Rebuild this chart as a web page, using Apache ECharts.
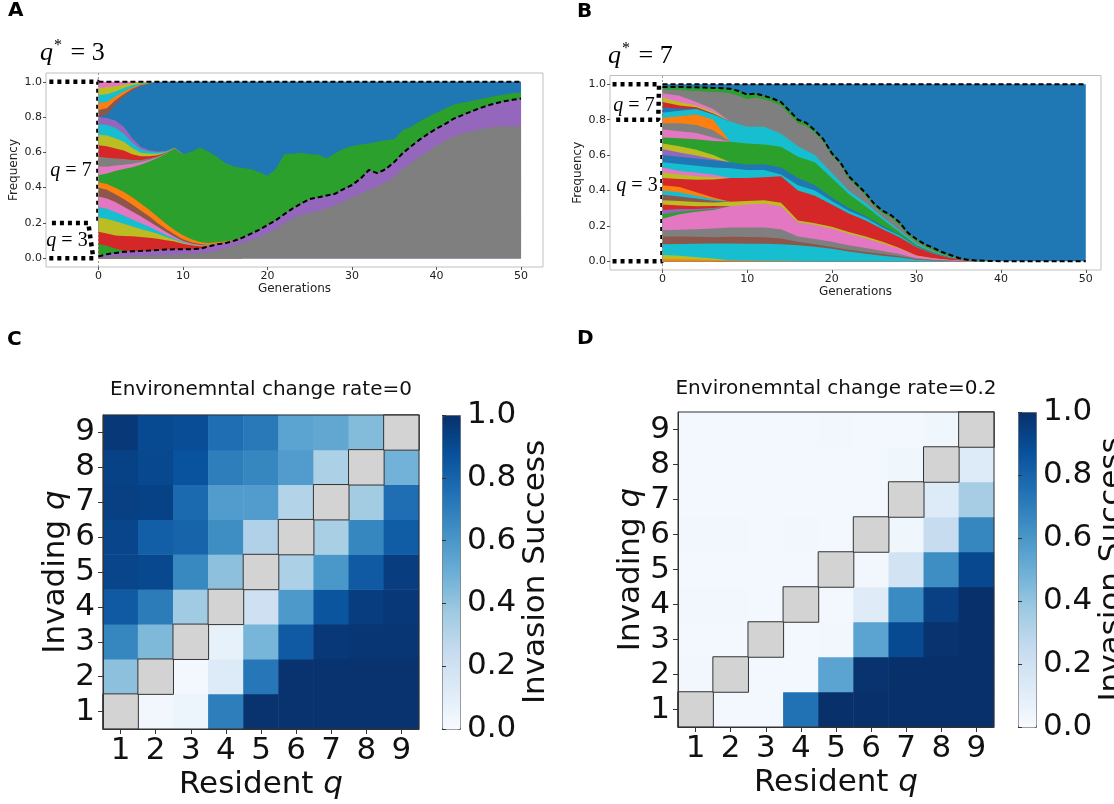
<!DOCTYPE html>
<html>
<head>
<meta charset="utf-8">
<script src="https://cdn.jsdelivr.net/npm/echarts@6.0.0/dist/echarts.min.js"></script>
<style>
  html, body { margin: 0; padding: 0; background: #fff; }
  #chart { width: 1114px; height: 804px; }
</style>
</head>
<body>
<div id="chart"></div>
<script>
// ---------------- data ----------------
// Generations (one sample per generation) and a coarser grid for the inner bands of panel B
const gens = [0,1,2,3,4,5,6,7,8,9,10,11,12,13,14,15,16,17,18,19,20,21,22,23,24,25,26,27,28,29,30,31,32,33,34,35,36,37,38,39,40,41,42,43,44,45,46,47,48,49,50];
const gensEven = [0,2,4,6,8,10,12,14,16,18,20,22,24,26,28,30,32,34,36,38];

// Frequencies always sum to one
const total = [1,1,1,1,1,1,1,1,1,1, 1,1,1,1,1,1,1,1,1,1, 1,1,1,1,1,1,1,1,1,1, 1,1,1,1,1,1,1,1,1,1, 1,1,1,1,1,1,1,1,1,1, 1];

// Panel A (q* = 3): upper edge of each band of the Muller plot (cumulative frequency)
const aStripU2 = [.965,.970,.975,.985,.992,.996,.998,1,1];
const aStripU3 = [.925,.930,.945,.965,.980,.990,.995,.999,1];
const aStripU4 = [.880,.885,.915,.945,.968,.985,.993,.998,1];
const aStripU5 = [.840,.850,.895,.930,.960,.980,.991,.998,1];
const aBlue = [.800,.815,.870,.915,.950,.975,.990,.997,1,1, 1,1,1,1,1,1,1,1,1,1, 1,1,1,1,1,1,1,1,1,1, 1,1,1,1,1,1,1,1,1,1, 1,1,1,1,1,1,1,1,1,1, 1];
const aStripM1 = [.800,.795,.780,.745,.680,.632,.612,.605,.608,.628,.592];
const aStripM2 = [.760,.755,.740,.705,.655,.618,.605,.600,.605,.626,.591];
const aStripM3 = [.700,.695,.680,.660,.625,.598,.593,.592,.601,.625,.590];
const aStripM4 = [.640,.635,.622,.610,.590,.578,.578,.584,.598,.624,.590];
const aStripM5 = [.575,.570,.565,.562,.556,.556,.565,.577,.596,.623,.590];
const aStripM6 = [.520,.518,.525,.530,.535,.545,.556,.572,.594,.622,.590];
const aGreen = [.470,.480,.495,.505,.515,.530,.548,.568,.592,.622, .590,.604,.628,.605,.575,.540,.520,.512,.505,.488, .468,.505,.590,.592,.598,.590,.588,.565,.595,.620, .635,.645,.650,.660,.668,.675,.725,.745,.775,.800, .825,.848,.870,.882,.890,.900,.910,.920,.928,.935, .940];
const aStripL1 = [.430,.420,.400,.375,.345,.310,.275,.235,.195,.160,.130,.108,.092,.085,.090,.095,.102,.115];
const aStripL2 = [.400,.388,.362,.335,.305,.270,.238,.200,.165,.135,.108,.090,.080,.075,.083,.090,.100,.115];
const aStripL3 = [.350,.338,.318,.292,.265,.238,.208,.178,.148,.122,.098,.083,.075,.072,.081,.088,.099,.115];
const aStripL4 = [.290,.280,.262,.242,.220,.200,.178,.155,.132,.112,.092,.079,.072,.070,.080,.087,.098,.115];
const aStripL5 = [.230,.222,.210,.195,.180,.166,.152,.138,.120,.104,.087,.076,.070,.068,.079,.086,.098,.115];
const aStripL6 = [.150,.140,.128,.126,.124,.120,.116,.110,.102,.094,.082,.074,.068,.067,.078,.085,.098,.115];
const aStripL7 = [.080,.070,.055,.042,.039];
// total frequency of the q = 3 lineages (dashed boundary)
const aQ3 = [.010,.022,.030,.036,.039,.041,.043,.046,.049,.050, .050,.051,.053,.066,.078,.085,.098,.115,.138,.160, .188,.215,.250,.282,.310,.335,.345,.355,.365,.392, .415,.450,.500,.482,.505,.545,.595,.635,.672,.705, .735,.760,.790,.810,.830,.848,.865,.878,.890,.898, .905];
const aGray = [.003,.005,.008,.010,.012,.014,.015,.016,.018,.020, .022,.024,.027,.032,.040,.055,.068,.085,.100,.118, .140,.165,.200,.225,.245,.258,.268,.282,.300,.322, .345,.365,.385,.405,.430,.460,.505,.540,.575,.605, .640,.665,.690,.705,.718,.728,.738,.745,.748,.745, .750];

// Panel B (q* = 7): total frequency of the q = 3 lineages (dashed boundary)
const bTop = [.985,.985,.985,.984,.983,.982,.980,.978,.975,.962, .942,.948,.935,.920,.900,.850,.800,.782,.740,.690, .610,.560,.480,.432,.385,.325,.285,.260,.220,.160, .125,.095,.075,.052,.035,.018,.008,.004,.002,.001, 0,0,0,0,0,0,0,0,0,0, 0];
const bGray = [.970,.970,.968,.965,.962,.960,.957,.955,.950,.935, .915,.925,.915,.900,.880,.830,.780,.765,.725,.675, .598,.548,.468,.420,.372,.312,.272,.248,.205,.148, .112,.084,.062,.042,.027,.016,.005,.002,0];
const bCyanU = [.840,.850,.860,.830,.790,.760,.760,.720,.650,.600,.500,.400,.330,.250,.175,.100,.055,.024,.005,0];
const bGreen = [.700,.695,.690,.680,.675,.665,.660,.647,.590,.560,.470,.380,.310,.235,.165,.092,.050,.022,.005,0];
const bBlue = [.600,.590,.580,.570,.560,.545,.548,.530,.470,.430,.360,.300,.255,.200,.150,.085,.046,.020,.004,0];
const bCyanS = [.560,.550,.540,.530,.525,.515,.515,.490,.430,.400,.340,.285,.245,.190,.145,.082,.044,.019,.004,0];
const bRed = [.470,.465,.460,.462,.470,.470,.475,.480,.400,.370,.320,.270,.230,.180,.135,.078,.042,.018,.004,0];
const bOlive = [.345,.340,.335,.332,.336,.340,.345,.330,.230,.215,.195,.165,.140,.110,.075,.032,.016,.007,.001,0];
const bPink = [.240,.265,.280,.290,.310,.320,.325,.310,.220,.205,.185,.155,.130,.100,.070,.030,.015,.006,.001,0];
const bGrayL = [.175,.178,.180,.185,.190,.190,.190,.180,.140,.125,.110,.090,.075,.058,.040,.016,.008,.003,0,0];
const bBrown = [.140,.140,.138,.135,.138,.137,.135,.128,.110,.095,.080,.065,.052,.040,.028,.012,.006,.002,0,0];
const bCyanL = [.095,.097,.098,.100,.100,.098,.098,.095,.090,.082,.070,.055,.042,.030,.020,.008,.004,.001,0,0];
const bOrange = [.012,.011,.009,.007,.005,.004,.003,.002,.001,0];
// short-lived lineages (generations 0-8)
const bFadeA = [.950,.935,.900,.860,.790];
const bFadeB = [.925,.900,.880,.845,.790];
const bFadeC = [.900,.880,.870,.835,.790];
const bFadeD = [.870,.862,.862,.831,.790];
const bFadeE = [.810,.820,.830,.800,.675];
const bFadeF = [.780,.780,.770,.740,.675];
const bFadeG = [.745,.735,.725,.700,.675];
const bFadeH = [.665,.650,.630,.600,.560];
const bFadeI = [.635,.615,.598,.578,.560];
const bFadeJ = [.530,.510,.500,.490,.470];
const bFadeK = [.500,.490,.480,.475,.470];
const bFadeL = [.430,.420,.390,.360,.336];
const bFadeM = [.400,.390,.370,.350,.336];
const bFadeN = [.375,.365,.355,.342,.336];
const bFadeO = [.320,.315,.310,.312,.310];
const bFadeP = [.290,.295,.295,.300,.310];
const bFadeQ = [.265,.280,.288,.295,.310];
const bFadeR = [.035,.030,.022,.015,.005];

// Initial-composition brackets (generation, frequency)
const aBracketQ7 = [[-5.8,1],[0,1],[0,0.2]];
const aBracketQ3 = [[-5.5,0.2],[-1.2,0.2],[-0.6,0],[-5.9,0]];
const bBracketQ7 = [[-5.9,1],[-0.4,1],[-0.5,0.8],[-5.8,0.8]];
const bBracketQ3 = [[-5.9,0],[0,0],[0,0.8]];

// Axis ticks
const genTicks = [0,10,20,30,40,50];
const freqTicks = [0,0.2,0.4,0.6,0.8,1.0];

// Panels C and D: invasion success, rows = invading q (1..9), columns = resident q (1..9)
const qValues = ['1','2','3','4','5','6','7','8','9'];
const rate0 = [
  [null,.03,.05,.70,.99,.99,.99,.99,.99],
  [.42,null,.02,.13,.73,.99,.99,.99,.99],
  [.67,.45,null,.08,.47,.84,.97,.98,.98],
  [.84,.71,.37,null,.21,.59,.86,.95,.97],
  [.92,.91,.66,.42,null,.33,.60,.84,.95],
  [.92,.82,.80,.64,.32,null,.34,.67,.83],
  [.94,.93,.78,.58,.58,.31,null,.36,.76],
  [.93,.91,.87,.70,.67,.58,.33,null,.48],
  [.97,.90,.89,.76,.72,.55,.53,.44,null]
];
const rate02 = [
  [null,.02,.02,.75,1,1,1,1,1],
  [.03,null,.02,.02,.55,.99,1,1,1],
  [.02,.02,null,.02,.03,.55,.90,.99,1],
  [.03,.03,.02,null,.02,.12,.65,.94,1],
  [.02,.02,.02,.02,null,.03,.19,.64,.91],
  [.03,.03,.02,.03,.02,null,.04,.24,.67],
  [.02,.02,.02,.02,.02,.02,null,.13,.35],
  [.02,.02,.02,.02,.02,.02,.04,null,.13],
  [.02,.02,.02,.02,.03,.02,.02,.04,null]
];
const blues = ['#f7fbff','#deebf7','#c6dbef','#9ecae1','#6baed6','#4292c6','#2171b5','#08519c','#08306b'];

// ---------------- helpers ----------------
const C = {blue:'#1f77b4', orange:'#ff7f0e', green:'#2ca02c', red:'#d62728', purple:'#9467bd',
           brown:'#8c564b', pink:'#e377c2', gray:'#7f7f7f', olive:'#bcbd22', cyan:'#17becf'};
const pairs = (xs, ys) => ys.map((y, i) => [xs[i], y]);

function band(panel, xs, tops, color) {
  return { type: 'line', xAxisIndex: panel, yAxisIndex: panel, data: pairs(xs, tops),
    symbol: 'none', showSymbol: false, lineStyle: { width: 0, opacity: 0 },
    areaStyle: { color: color, opacity: 1 }, silent: true, z: 2 };
}
function dashed(panel, xs, ys) {
  return { type: 'line', xAxisIndex: panel, yAxisIndex: panel, data: pairs(xs, ys),
    symbol: 'none', lineStyle: { color: '#000', width: 2, type: [5, 3] }, silent: true, z: 5 };
}
function bracket(panel, pts, withZeroLine) {
  const s = { type: 'line', xAxisIndex: panel, yAxisIndex: panel, data: pts, symbol: 'none',
    lineStyle: { color: '#000', width: 4.5, type: [4, 4], cap: 'butt' }, silent: true, z: 1 };
  if (withZeroLine) {
    s.markLine = { silent: true, symbol: 'none', label: { show: false },
      lineStyle: { color: '#9a9a9a', width: 1, type: [2, 2] }, data: [{ xAxis: 0 }] };
  }
  return s;
}
function cells(mat) {
  const out = [];
  mat.forEach((row, r) => row.forEach((v, c) => { if (v !== null) out.push([c, r, v]); }));
  return out;
}
function selfCells(mat) {
  const out = [];
  mat.forEach((row, r) => row.forEach((v, c) => { if (v === null) out.push([c, r, 0]); }));
  return out;
}

// ---------------- series ----------------
const series = [];

// Panel A, highest cumulative edge first so lower bands paint over it
[
  [gens, total, C.pink], [gens, aStripU2, C.olive], [gens, aStripU3, C.cyan],
  [gens, aStripU4, C.orange], [gens, aStripU5, C.brown], [gens, aBlue, C.blue],
  [gens, aStripM1, C.purple], [gens, aStripM2, C.cyan], [gens, aStripM3, C.olive],
  [gens, aStripM4, C.red], [gens, aStripM5, C.gray], [gens, aStripM6, C.pink],
  [gens, aGreen, C.green],
  [gens, aStripL1, C.orange], [gens, aStripL2, C.brown], [gens, aStripL3, C.pink],
  [gens, aStripL4, C.cyan], [gens, aStripL5, C.olive], [gens, aStripL6, C.red],
  [gens, aStripL7, C.green],
  [gens, aQ3, C.purple], [gens, aGray, C.gray]
].forEach(([xs, ys, col]) => series.push(band(0, xs, ys, col)));
series.push(dashed(0, gens, total));
series.push(dashed(0, gens, aQ3));
series.push(bracket(0, aBracketQ7, true));
series.push(bracket(0, aBracketQ3, false));

// Panel B
[
  [gens, total, C.blue], [gens, bTop, C.green], [gens, bGray, C.gray],
  [gensEven, bFadeA, C.pink], [gensEven, bFadeB, C.olive], [gensEven, bFadeC, C.red], [gensEven, bFadeD, C.blue],
  [gensEven, bCyanU, C.cyan],
  [gensEven, bFadeE, C.orange], [gensEven, bFadeF, C.gray], [gensEven, bFadeG, C.pink],
  [gensEven, bGreen, C.green],
  [gensEven, bFadeH, C.olive], [gensEven, bFadeI, C.purple],
  [gensEven, bBlue, C.blue], [gensEven, bCyanS, C.cyan],
  [gensEven, bFadeJ, C.pink], [gensEven, bFadeK, C.olive],
  [gensEven, bRed, C.red],
  [gensEven, bFadeL, C.orange], [gensEven, bFadeM, C.cyan], [gensEven, bFadeN, C.brown],
  [gensEven, bOlive, C.olive],
  [gensEven, bFadeO, C.red], [gensEven, bFadeP, C.purple], [gensEven, bFadeQ, C.green],
  [gensEven, bPink, C.pink], [gensEven, bGrayL, C.gray], [gensEven, bBrown, C.brown],
  [gensEven, bCyanL, C.cyan], [gensEven, bFadeR, C.olive], [gensEven, bOrange, C.orange]
].forEach(([xs, ys, col]) => series.push(band(1, xs, ys, col)));
series.push(dashed(1, gens, total));
series.push(dashed(1, gens, bTop));
series.push(bracket(1, bBracketQ7, true));
series.push(bracket(1, bBracketQ3, false));

// Panels C and D
const heatC = series.length;
series.push({ type: 'heatmap', xAxisIndex: 2, yAxisIndex: 2, data: cells(rate0), silent: true,
  emphasis: { disabled: true }, itemStyle: { borderWidth: 0 }, z: 2 });
series.push({ type: 'heatmap', xAxisIndex: 2, yAxisIndex: 2, data: selfCells(rate0), silent: true,
  emphasis: { disabled: true }, itemStyle: { color: '#d3d3d3', borderColor: '#333', borderWidth: 1 }, z: 3 });
const heatD = series.length;
series.push({ type: 'heatmap', xAxisIndex: 3, yAxisIndex: 3, data: cells(rate02), silent: true,
  emphasis: { disabled: true }, itemStyle: { borderWidth: 0 }, z: 2 });
series.push({ type: 'heatmap', xAxisIndex: 3, yAxisIndex: 3, data: selfCells(rate02), silent: true,
  emphasis: { disabled: true }, itemStyle: { color: '#d3d3d3', borderColor: '#333', borderWidth: 1 }, z: 3 });

// ---------------- axes ----------------
const smallFont = { fontFamily: 'DejaVu Sans', fontSize: 11, color: '#222' };
function muller(gridIndex, xMax) {
  return {
    x: { type: 'value', gridIndex, min: -6.2, max: xMax,
      axisLine: { show: false, onZero: false }, splitLine: { show: false },
      axisTick: { show: true, customValues: genTicks, length: 3, lineStyle: { color: '#555' } },
      axisLabel: Object.assign({ customValues: genTicks, margin: 4 }, smallFont),
      name: 'Generations', nameLocation: 'middle', nameGap: 14,
      nameTextStyle: { fontFamily: 'DejaVu Sans', fontSize: 12, color: '#222' } },
    y: { type: 'value', gridIndex, min: -0.05, max: 1.05,
      axisLine: { show: false, onZero: false }, splitLine: { show: false },
      axisTick: { show: true, customValues: freqTicks, length: 3, lineStyle: { color: '#555' } },
      axisLabel: Object.assign({ customValues: freqTicks, margin: 4, formatter: v => v.toFixed(1) }, smallFont),
      name: 'Frequency', nameLocation: 'middle', nameGap: 26, nameRotate: 90,
      nameTextStyle: { fontFamily: 'DejaVu Sans', fontSize: 12, color: '#222' } }
  };
}
const bigRich = {
  n: { fontFamily: 'DejaVu Sans', fontSize: 31, color: '#111' },
  i: { fontFamily: 'DejaVu Sans', fontSize: 31, color: '#111', fontStyle: 'italic' }
};
function heatAxes(gridIndex) {
  return {
    x: { type: 'category', gridIndex, data: qValues, z: 10,
      axisLine: { show: true, lineStyle: { color: '#333', width: 1 } },
      axisTick: { show: true, alignWithLabel: true, length: 5, lineStyle: { color: '#333' } },
      axisLabel: { interval: 0, fontFamily: 'DejaVu Sans', fontSize: 31, color: '#111', margin: 6 },
      splitLine: { show: false },
      name: '{n|Resident }{i|q}', nameLocation: 'middle', nameGap: 40,
      nameTextStyle: { rich: bigRich } },
    y: { type: 'category', gridIndex, data: qValues, z: 10,
      axisLine: { show: true, lineStyle: { color: '#333', width: 1 } },
      axisTick: { show: true, alignWithLabel: true, length: 5, lineStyle: { color: '#333' } },
      axisLabel: { interval: 0, fontFamily: 'DejaVu Sans', fontSize: 31, color: '#111', margin: 8 },
      splitLine: { show: false },
      name: '{n|Invading }{i|q}', nameLocation: 'middle', nameGap: 30, nameRotate: 90,
      nameTextStyle: { rich: bigRich } }
  };
}
function barAxes(gridIndex) {
  return {
    x: { type: 'value', gridIndex, min: 0, max: 1, show: false },
    y: { type: 'value', gridIndex, min: 0, max: 1, interval: 0.2, position: 'right', z: 10,
      axisLine: { show: false }, splitLine: { show: false },
      axisTick: { show: true, length: 4, lineStyle: { color: '#333' } },
      axisLabel: { fontFamily: 'DejaVu Sans', fontSize: 31, color: '#111', margin: 7, formatter: v => v.toFixed(1) },
      name: 'Invasion Success', nameLocation: 'middle', nameGap: 50, nameRotate: 90,
      nameTextStyle: { fontFamily: 'DejaVu Sans', fontSize: 31, color: '#111' } }
  };
}
const axA = muller(0, 52.6), axB = muller(1, 51.8);
const axC = heatAxes(2), axD = heatAxes(3);
const cbC = barAxes(4), cbD = barAxes(5);

// ---------------- text ----------------
const serifRich = {
  i: { fontFamily: 'Liberation Serif', fontStyle: 'italic', fontWeight: 'normal', fontSize: 20, color: '#000' },
  n: { fontFamily: 'Liberation Serif', fontWeight: 'normal', fontSize: 20, color: '#000' }
};
const starRich = {
  i: { fontFamily: 'Liberation Serif', fontStyle: 'italic', fontWeight: 'normal', fontSize: 26, color: '#000' },
  s: { fontFamily: 'Liberation Serif', fontWeight: 'normal', fontSize: 16, color: '#000', padding: [0, 2, 14, 1] },
  n: { fontFamily: 'Liberation Serif', fontWeight: 'normal', fontSize: 26, color: '#000' }
};
function label(text, x, y, style, align) {
  return { text, left: x, top: y, padding: 0, textAlign: align || 'center', textVerticalAlign: 'middle',
    textStyle: Object.assign({ fontWeight: 'normal' }, style) };
}
const letterStyle = { fontFamily: 'DejaVu Sans', fontWeight: 'bold', fontSize: 20, color: '#000' };
const headStyle = { fontFamily: 'DejaVu Sans', fontWeight: 'normal', fontSize: 20, color: '#111' };

const titles = [
  label('A', 8, 11, letterStyle, 'left'),
  label('B', 577, 12, letterStyle, 'left'),
  label('C', 7, 340, letterStyle, 'left'),
  label('D', 577, 339, letterStyle, 'left'),
  label('{i|q}{s|*}{n| = 3}', 40, 53, { rich: starRich }, 'left'),
  label('{i|q}{s|*}{n| = 7}', 608, 56, { rich: starRich }, 'left'),
  label('{i|q}{n| = 7}', 71, 171, { rich: serifRich }),
  label('{i|q}{n| = 3}', 67, 241, { rich: serifRich }),
  label('{i|q}{n| = 7}', 634, 106, { rich: serifRich }),
  label('{i|q}{n| = 3}', 637, 186, { rich: serifRich }),
  label('Environemntal change rate=0', 261, 390, headStyle),
  label('Environemntal change rate=0.2', 836, 389, headStyle)
];

// ---------------- chart ----------------
const chart = echarts.init(document.getElementById('chart'), null, { renderer: 'canvas' });
chart.setOption({
  animation: false,
  backgroundColor: '#fff',
  textStyle: { fontFamily: 'DejaVu Sans' },
  title: titles,
  grid: [
    { left: 46, top: 73, width: 497, height: 194, show: true, borderColor: '#bfbfbf', borderWidth: 1, backgroundColor: 'transparent', outerBoundsMode: 'none' },
    { left: 610, top: 75.5, width: 491, height: 194.5, show: true, borderColor: '#bfbfbf', borderWidth: 1, backgroundColor: 'transparent', outerBoundsMode: 'none' },
    { left: 103, top: 415, width: 316, height: 314, show: true, z: 10, borderColor: '#333', borderWidth: 1, backgroundColor: 'transparent', outerBoundsMode: 'none' },
    { left: 678, top: 412, width: 316, height: 315, show: true, z: 10, borderColor: '#333', borderWidth: 1, backgroundColor: 'transparent', outerBoundsMode: 'none' },
    { left: 442, top: 415, width: 18, height: 314, show: false, outerBoundsMode: 'none' },
    { left: 1018, top: 412, width: 18, height: 315, show: false, outerBoundsMode: 'none' }
  ],
  xAxis: [axA.x, axB.x, axC.x, axD.x, cbC.x, cbD.x],
  yAxis: [axA.y, axB.y, axC.y, axD.y, cbC.y, cbD.y],
  visualMap: [
    { type: 'continuous', min: 0, max: 1, dimension: 2, seriesIndex: heatC, calculable: false,
      inRange: { color: blues }, left: 442, top: 415, itemWidth: 18, itemHeight: 314, padding: 0,
      borderColor: '#666', borderWidth: 1, hoverLink: false, orient: 'vertical' },
    { type: 'continuous', min: 0, max: 1, dimension: 2, seriesIndex: heatD, calculable: false,
      inRange: { color: blues }, left: 1018, top: 412, itemWidth: 18, itemHeight: 315, padding: 0,
      borderColor: '#666', borderWidth: 1, hoverLink: false, orient: 'vertical' }
  ],
  series: series
});
</script>
</body>
</html>
